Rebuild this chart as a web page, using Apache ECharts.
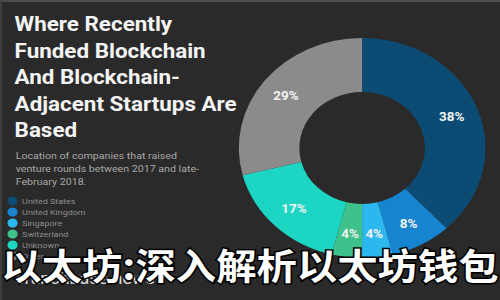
<!DOCTYPE html>
<html>
<head>
<meta charset="utf-8">
<script src="https://cdn.jsdelivr.net/npm/echarts@6/dist/echarts.min.js"></script>
<style>
html,body{margin:0;padding:0;width:500px;height:300px;overflow:hidden;background:#2a2a2a;}
#frame{position:absolute;left:0;top:0;width:498px;height:298px;border-top:2px solid #4c4c4c;border-left:2px solid #3e3e3e;box-sizing:content-box;}
#chart{position:absolute;left:0;top:0;width:446px;height:300px;transform:scaleX(1.1211);transform-origin:0 0;}
</style>
</head>
<body>
<div id="chart"></div>
<div id="frame"></div>
<script>
const categories = ['United States','United Kingdom','Singapore','Switzerland','Unknown','Other'];
const shares = [38, 8, 4, 4, 17, 29];
const colors = ['#0c4b74','#1784cf','#2db7ef','#3ec18b','#1cd5c3','#8b8b8b'];
const titleText = 'Where Recently\nFunded Blockchain\nAnd Blockchain-\nAdjacent Startups Are\nBased';
const subtitleText = 'Location of companies that raised\nventure rounds between 2017 and late-\nFebruary 2018.';
const sourceText = 'crunchbase news';
const overlayText = '以太坊:深入解析以太坊钱包';

const chart = echarts.init(document.getElementById('chart'), null, {renderer:'svg'});
chart.setOption({
  backgroundColor: 'transparent',
  animation: false,
  color: colors,
  title: [
    {text: titleText, left: 13, top: 11, padding: 0,
     textStyle: {color:'#f4f4f4', fontFamily:'Roboto', fontWeight:'bold', fontSize:20, lineHeight:26.5}},
    {text: subtitleText, left: 14, top: 149.5, padding: 0,
     textStyle: {color:'#a9a9a9', fontFamily:'Roboto', fontWeight:'normal', fontSize:9.5, lineHeight:13}},
    {text: sourceText, left: 13.4, top: 269, padding: 0,
     textStyle: {color:'#dedede', fontFamily:'Roboto', fontWeight:'normal', fontSize:16, lineHeight:18}}
  ],
  legend: {
    orient: 'vertical', left: 6.7, top: 196.5, padding: 0,
    itemWidth: 9, itemHeight: 9, itemGap: 2, icon: 'circle',
    data: categories,
    textStyle: {color:'#8d8d8d', fontFamily:'Roboto', fontSize:8, padding:[0,0,0,-1]}
  },
  series: [{
    type: 'pie',
    center: [323, 148],
    radius: [56, 110],
    startAngle: 90,
    clockwise: true,
    avoidLabelOverlap: false,
    label: {show:true, position:'inside', formatter:'{c}%', color:'#f2f2f2',
            fontFamily:'Roboto', fontWeight:'bold', fontSize:12},
    labelLine: {show:false},
    emphasis: {disabled:true},
    itemStyle: {borderWidth:0},
    data: categories.map((n,i)=>({name:n, value:shares[i]}))
  }],
  graphic: [{
    type:'text', z:100, left:'center', top: 245,
    style: {text: overlayText, fill:'#ffffff', stroke:'#000000', lineWidth:3,
            font:'bold 36px "Noto Sans CJK SC"'}
  }]
});
</script>
</body>
</html>
